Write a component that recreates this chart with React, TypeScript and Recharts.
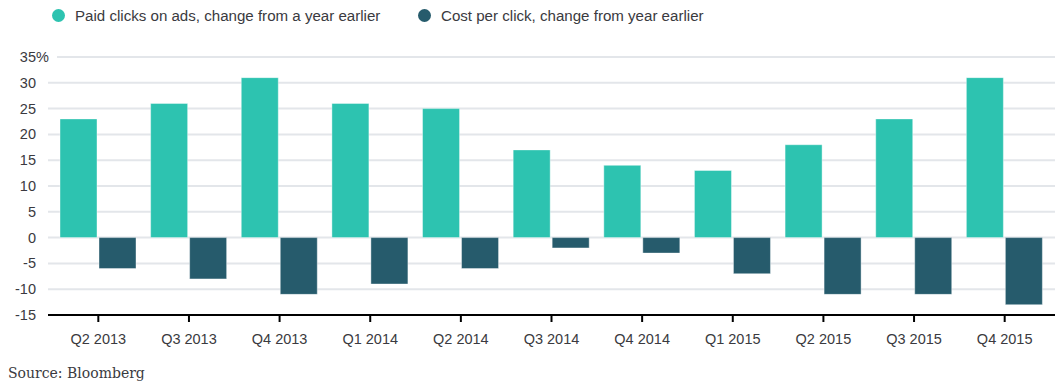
import React from "react";
import { BarChart, Bar, XAxis, YAxis, CartesianGrid } from "recharts";

const quarters = ["Q2 2013", "Q3 2013", "Q4 2013", "Q1 2014", "Q2 2014", "Q3 2014", "Q4 2014", "Q1 2015", "Q2 2015", "Q3 2015", "Q4 2015"];
const paidClicks = [23, 26, 31, 26, 25, 17, 14, 13, 18, 23, 31];
const costPerClick = [-6, -8, -11, -9, -6, -2, -3, -7, -11, -11, -13];
const yTicks = [-15, -10, -5, 0, 5, 10, 15, 20, 25, 30, 35];

const TEAL = "#2dc3b0";
const SLATE = "#265b6c";
const TEXT = "#3a3a40";
const SANS = "'Liberation Sans', Arial, sans-serif";

const data = quarters.map((q, i) => ({ name: q, clicks: paidClicks[i], cpc: costPerClick[i] }));

const YTick = (props: any) => {
    const { y, payload } = props;
    const top = payload.value === yTicks[yTicks.length - 1];
    return (
        <g>
            {top ? <rect x={36} y={y - 2} width={21} height={4} fill="#fff" /> : null}
            <text x={36} y={y} dy={5} textAnchor="end" fill={TEXT} fontSize={14.5} fontFamily={SANS}>
                {payload.value}
            </text>
            {top ? (
                <text x={36} y={y} dy={5} textAnchor="start" fill={TEXT} fontSize={14.5} fontFamily={SANS}>
                    %
                </text>
            ) : null}
        </g>
    );
};

const XTick = (props: any) => {
    const { x, payload } = props;
    return (
        <text x={x} y={344} textAnchor="middle" fill={TEXT} fontSize={14.5} fontFamily={SANS}>
            {payload.value}
        </text>
    );
};

const LegendItem = ({ color, label, left }: { color: string; label: string; left: number }) => (
    <div style={{ position: "absolute", left, top: 7, display: "flex", alignItems: "center" }}>
        <span style={{ width: 13, height: 13, borderRadius: "50%", background: color, display: "inline-block" }} />
        <span style={{ marginLeft: 10, fontFamily: SANS, fontSize: 15.1, color: TEXT }}>{label}</span>
    </div>
);

const App: React.FC = () => {
    return (
        <div style={{ position: "absolute", top: 0, left: 0, width: 1063, height: 391, background: "#fff" }}>
            <LegendItem color={TEAL} label="Paid clicks on ads, change from a year earlier" left={52} />
            <LegendItem color={SLATE} label="Cost per click, change from year earlier" left={418} />
            <BarChart
                width={1063}
                height={391}
                data={data}
                margin={{ top: 57, right: 8, left: 0, bottom: 36 }}
                barSize={37}
                barGap={2}
            >
                <CartesianGrid vertical={false} stroke="#e3e6ea" strokeWidth={2} />
                <XAxis
                    dataKey="name"
                    height={40}
                    padding={{ left: 5, right: 5 }}
                    axisLine={{ stroke: "#000", strokeWidth: 2 }}
                    tickLine={{ stroke: "#000", strokeWidth: 2 }}
                    tickSize={7}
                    tick={<XTick />}
                    interval={0}
                />
                <YAxis
                    domain={[-15, 35]}
                    ticks={yTicks}
                    width={48}
                    axisLine={false}
                    tickLine={false}
                    tick={<YTick />}
                    interval={0}
                />
                <Bar dataKey="clicks" fill={TEAL} stroke="#ffffff" strokeOpacity={0.4} strokeWidth={1} isAnimationActive={false} />
                <Bar dataKey="cpc" fill={SLATE} stroke="#ffffff" strokeOpacity={0.4} strokeWidth={1} isAnimationActive={false} />
            </BarChart>
            <div style={{ position: "absolute", left: 8, top: 365, fontFamily: "'DejaVu Serif', serif", fontSize: 14, color: TEXT }}>
                Source: Bloomberg
            </div>
        </div>
    );
};

export default App;
